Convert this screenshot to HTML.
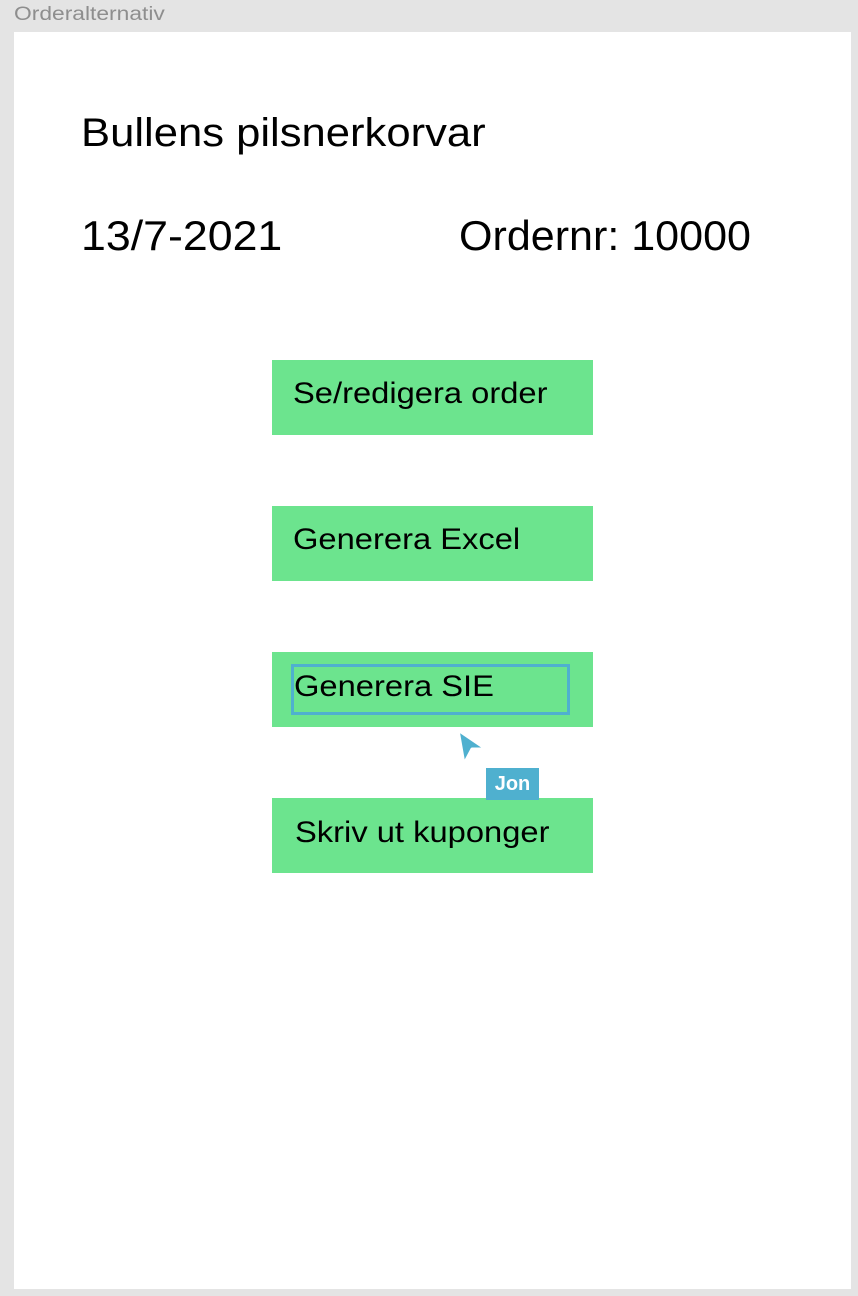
<!DOCTYPE html>
<html><head><style>
body{margin:0;width:858px;height:1296px;background:#e4e4e4;position:relative;font-family:"Liberation Sans",sans-serif;overflow:hidden}
.a{position:absolute;transform-origin:0 0;white-space:nowrap}
.btn{position:absolute;left:272px;width:321px;height:75px;background:#6ce48e}
.bt{position:absolute;font-size:30px;color:#000;white-space:nowrap;transform:scaleX(1.09);transform-origin:0 0}
</style></head><body>
<div class="a" style="left:14px;top:4px;font-size:19px;color:#8e8e8e;transform:scaleX(1.2)">Orderalternativ</div>
<div class="a" style="left:14px;top:32px;width:837px;height:1257px;background:#fff"></div>
<div class="a" style="left:81px;top:111px;font-size:40px;transform:scaleX(1.09)">Bullens pilsnerkorvar</div>
<div class="a" style="left:81px;top:212px;font-size:42px;transform:scaleX(1.064)">13/7-2021</div>
<div class="a" style="left:459px;top:212px;font-size:42px;transform:scaleX(1.025)">Ordernr: 10000</div>
<div class="btn" style="top:360px"></div><div class="bt" style="left:293px;top:377px">Se/redigera order</div>
<div class="btn" style="top:506px"></div><div class="bt" style="left:293px;top:523px">Generera Excel</div>
<div class="btn" style="top:652px"></div><div class="bt" style="left:294px;top:670px">Generera SIE</div>
<div class="a" style="left:291px;top:664px;width:273px;height:45px;border:3px solid #4fb0cf"></div>
<div class="btn" style="top:798px"></div><div class="bt" style="left:295px;top:816px">Skriv ut kuponger</div>
<svg class="a" style="left:450px;top:722px" width="45" height="50"><polygon points="8,8 36,27 22,27 14,42" fill="#4fb0cf" stroke="#fff" stroke-width="3" stroke-linejoin="round"/></svg>
<div class="a" style="left:486px;top:768px;width:53px;height:32px;background:#4fb0cf;color:#fff;font-size:20px;font-weight:bold;text-align:center;line-height:32px">Jon</div>
</body></html>
